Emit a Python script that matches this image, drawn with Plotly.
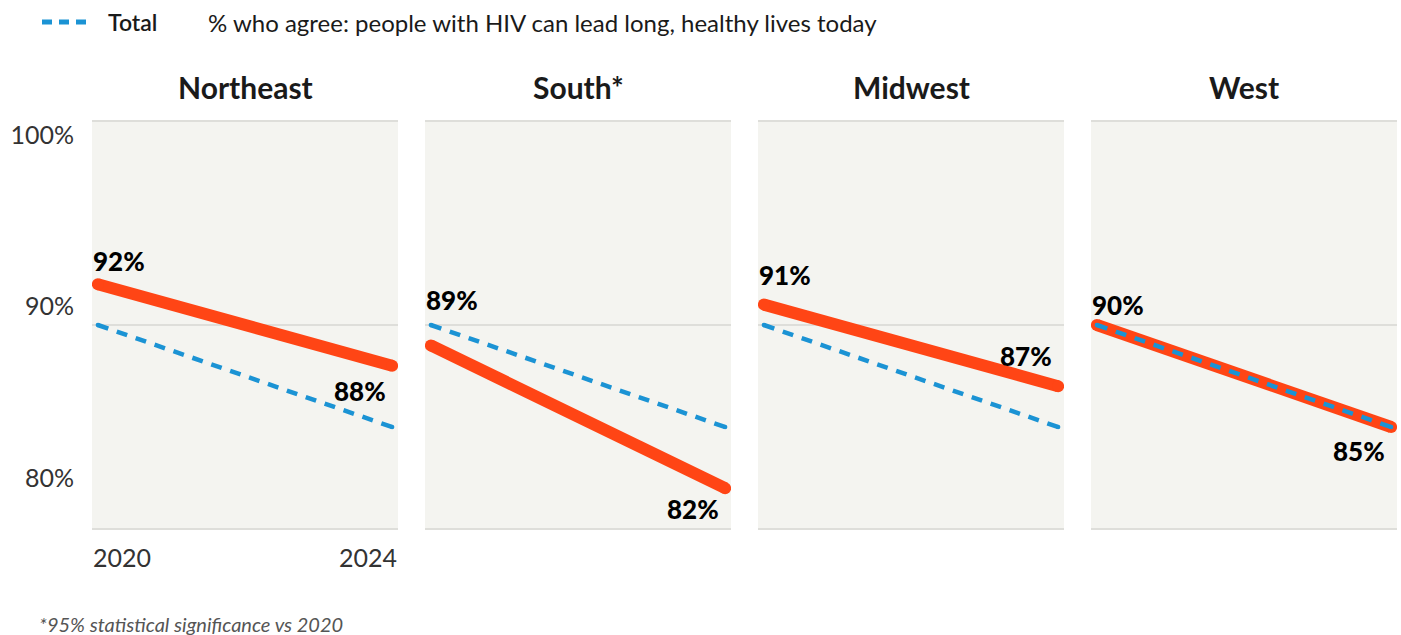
import plotly.graph_objects as go
from plotly.subplots import make_subplots

# --- data -------------------------------------------------------------
regions = ["Northeast", "South*", "Midwest", "West"]
years = [2020, 2024]
northeast = [92, 88]
south = [89, 82]
midwest = [91, 87]
west = [90, 85]
total = [90, 85]
y_tick_vals = [100, 90, 80]
y_tick_text = ["100%", "90%", "80%"]
x_tick_text = ["2020", "2024"]

region_series = [northeast, south, midwest, west]

# --- styling ----------------------------------------------------------
RED = "#ff4515"
BLUE = "#1b93d4"
PANEL_BG = "#f4f4f0"
GRID = "#dededa"
FONT = "Lato"
W, H = 1401, 635
L, R, T, B = 92, 4, 120, 105

# vertical offsets (px) of the start / end value labels in each panel
start_label_shift = [23, 45, 30, 20]
end_label_shift = [-25, -21, 30, -24]

fig = make_subplots(rows=1, cols=4, horizontal_spacing=27 / (W - L - R),
                    shared_yaxes=False)

for i, (name, vals) in enumerate(zip(regions, region_series), start=1):
    # region line (thick, round ends via endpoint markers)
    fig.add_trace(go.Scatter(
        x=years, y=vals, mode="lines+markers",
        line=dict(color=RED, width=12),
        marker=dict(color=RED, size=12),
        hoverinfo="skip", showlegend=False), row=1, col=i)
    # total line (dashed)
    fig.add_trace(go.Scatter(
        x=years, y=total, mode="lines+markers",
        line=dict(color=BLUE, width=4.5, dash="11px,9px"),
        marker=dict(color=BLUE, size=4.5),
        hoverinfo="skip", showlegend=False), row=1, col=i)

    xa = "x" if i == 1 else f"x{i}"
    ya = "y" if i == 1 else f"y{i}"

    # value labels
    fig.add_annotation(x=years[0], y=vals[0], xref=xa, yref=ya,
                       text=f"{vals[0]}%", showarrow=False,
                       xanchor="left", yanchor="middle",
                       xshift=-7, yshift=start_label_shift[i - 1],
                       font=dict(family=FONT, size=26, color="#000", weight=900))
    fig.add_annotation(x=years[1], y=vals[1], xref=xa, yref=ya,
                       text=f"{vals[1]}%", showarrow=False,
                       xanchor="right", yanchor="middle",
                       xshift=-4, yshift=end_label_shift[i - 1],
                       font=dict(family=FONT, size=26, color="#000", weight=900))

    # panel title
    fig.add_annotation(x=0.5, y=(H - B - 87) / (H - T - B), xref=f"{xa} domain",
                       yref="paper", text=name, showarrow=False,
                       xanchor="center", yanchor="middle",
                       font=dict(family=FONT, size=30, color="#1a1a1a", weight=700))

    fig.update_xaxes(range=[2019.92, 2024.08], showgrid=False, zeroline=False,
                     showticklabels=False, showline=False, fixedrange=True,
                     row=1, col=i)
    fig.update_yaxes(range=[79.95, 100.05], tickvals=y_tick_vals,
                     showticklabels=False, showgrid=True, gridcolor=GRID,
                     gridwidth=2, zeroline=False, showline=False,
                     row=1, col=i)

# year labels under the first panel, flush with the panel edges
year_y = -27 / (H - T - B)
fig.add_annotation(x=years[0], y=year_y, xref="x", yref="y domain",
                   text=x_tick_text[0], showarrow=False, xanchor="left",
                   yanchor="middle", xshift=-7,
                   font=dict(family=FONT, size=25, color="#333"))
fig.add_annotation(x=years[1], y=year_y, xref="x", yref="y domain",
                   text=x_tick_text[1], showarrow=False, xanchor="right",
                   yanchor="middle", xshift=7,
                   font=dict(family=FONT, size=25, color="#333"))

# percentage labels on their own overlaid axis
fig.add_trace(go.Scatter(x=[None], y=[None], yaxis="y5", xaxis="x",
                         showlegend=False, hoverinfo="skip"))
fig.update_layout(yaxis5=dict(
    overlaying="y", anchor="x", side="left", range=[76.97, 100.87],
    tickvals=y_tick_vals, ticktext=y_tick_text, showgrid=False,
    zeroline=False, showline=False, ticks="outside", ticklen=12,
    tickcolor="rgba(0,0,0,0)", tickfont=dict(family=FONT, size=25, color="#333")))

# legend row
px = lambda x: (x - L) / (W - L - R)
py = lambda y: (H - B - y) / (H - T - B)
fig.add_shape(type="line", xref="paper", yref="paper",
              x0=px(42), x1=px(90), y0=py(22), y1=py(22),
              line=dict(color=BLUE, width=5, dash="10px,7px"))
fig.add_annotation(x=px(106), y=py(22), xref="paper", yref="paper",
                   text="Total", showarrow=False, xanchor="left",
                   yanchor="middle",
                   font=dict(family=FONT, size=23, color="#1a1a1a", weight=600))
fig.add_annotation(x=px(206), y=py(22), xref="paper", yref="paper",
                   text="% who agree: people with HIV can lead long, healthy lives today",
                   showarrow=False, xanchor="left", yanchor="middle",
                   font=dict(family=FONT, size=24, color="#1a1a1a"))
# footnote
fig.add_annotation(x=px(37), y=py(624), xref="paper", yref="paper",
                   text="<i>*95% statistical significance vs 2020</i>",
                   showarrow=False, xanchor="left", yanchor="middle",
                   font=dict(family=FONT, size=20, color="#555"))

fig.update_layout(
    width=W, height=H,
    margin=dict(l=L, r=R, t=T, b=B),
    paper_bgcolor="white", plot_bgcolor=PANEL_BG,
    showlegend=False,
    font=dict(family=FONT),
)

fig.write_html("out.html")
